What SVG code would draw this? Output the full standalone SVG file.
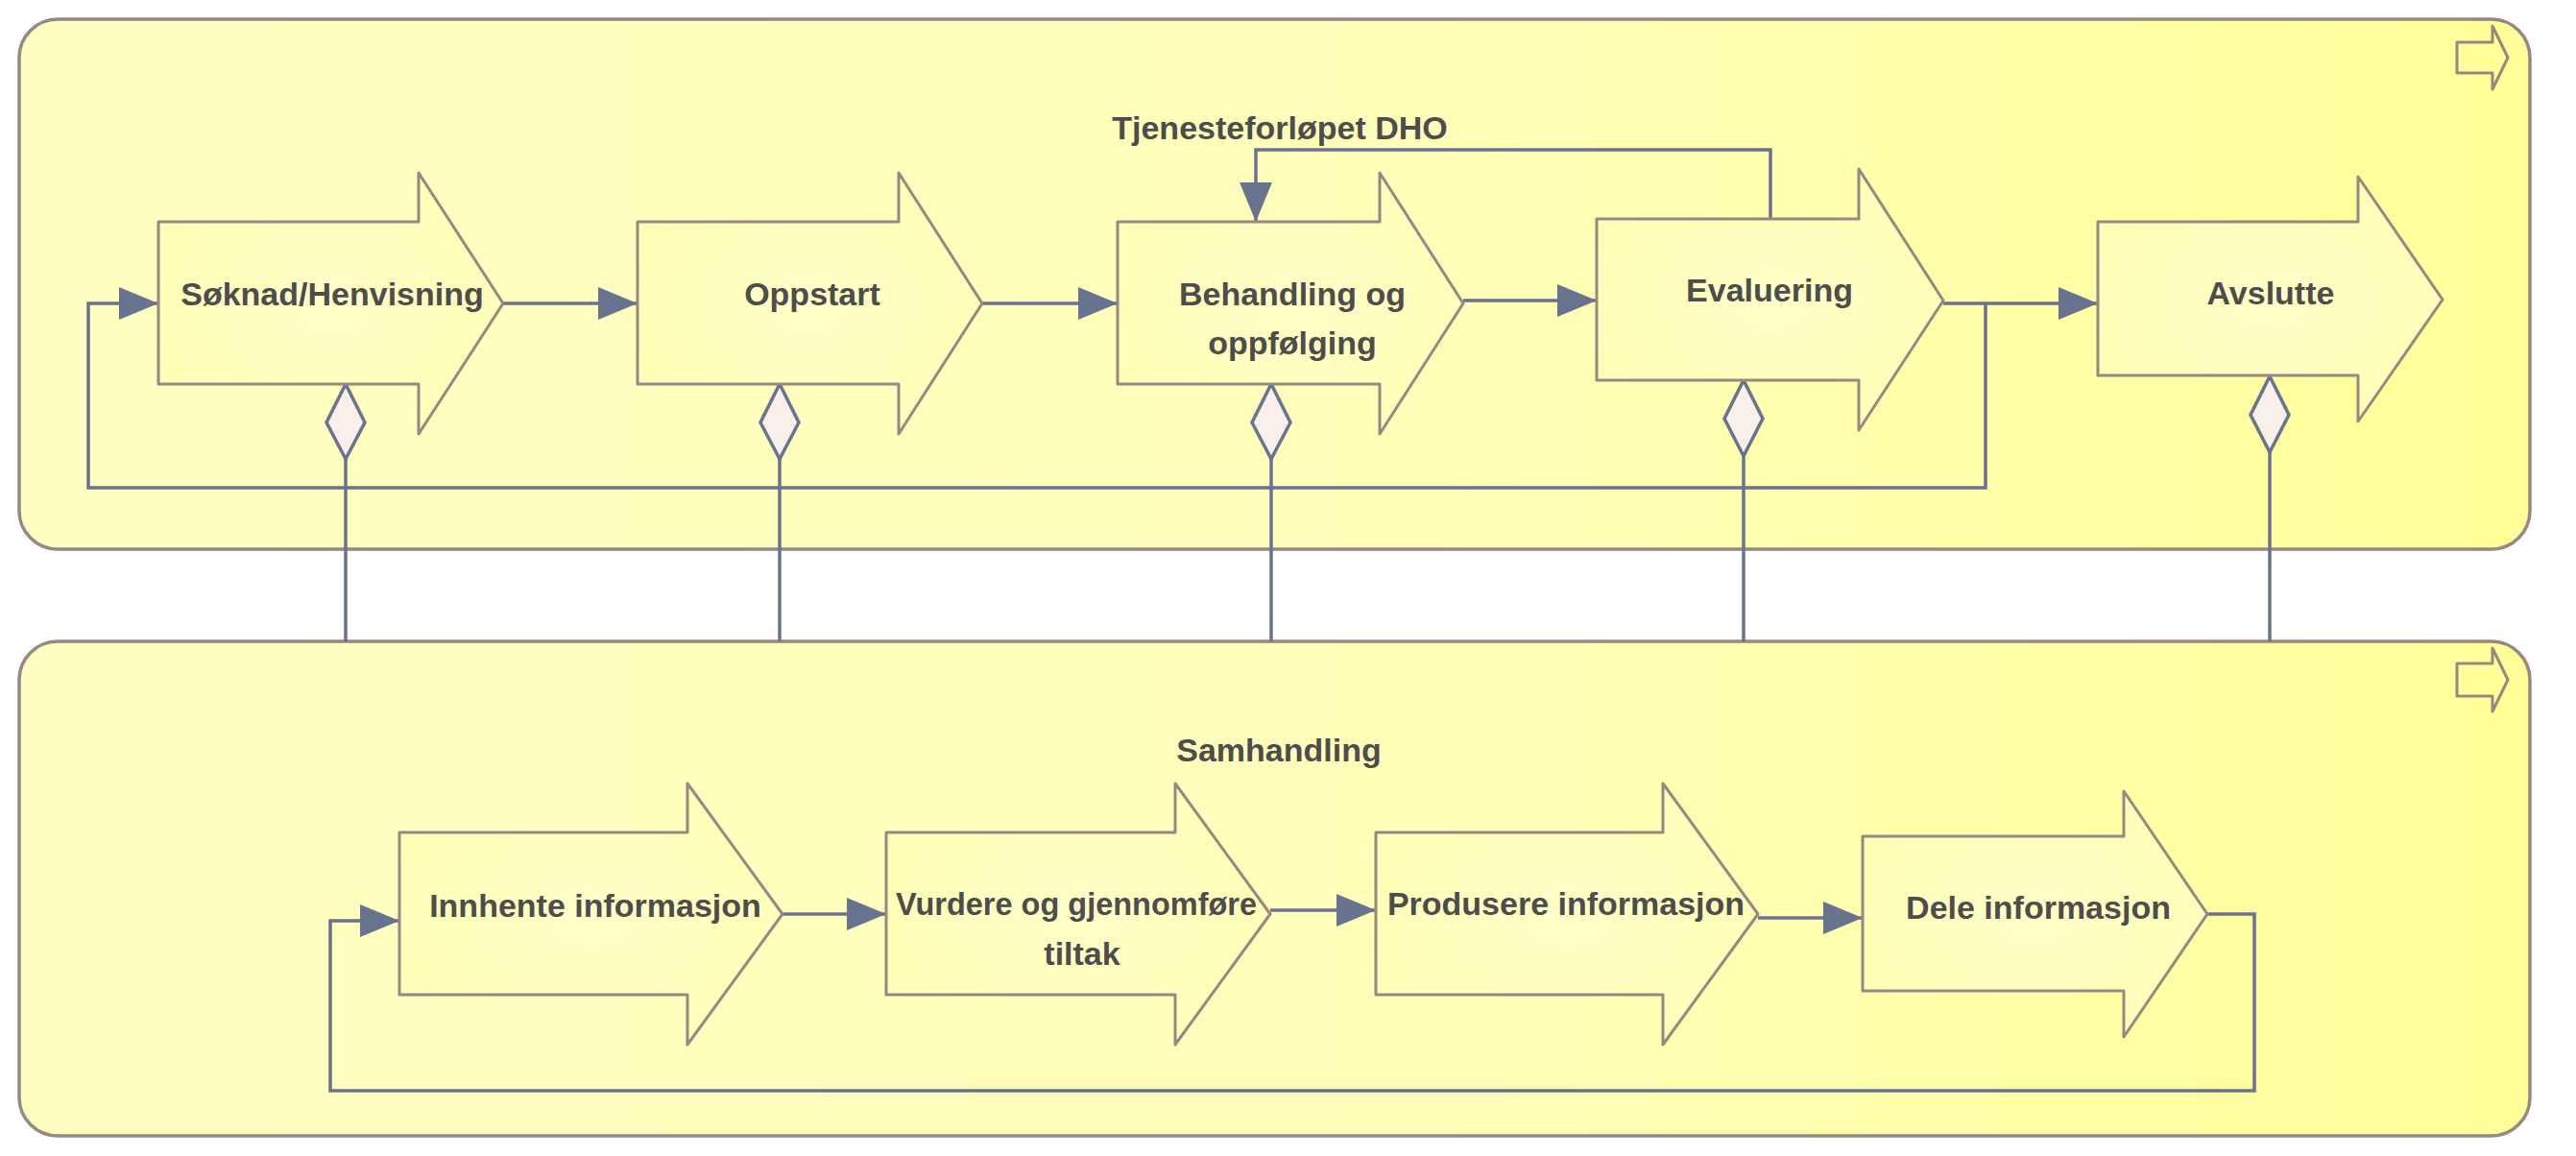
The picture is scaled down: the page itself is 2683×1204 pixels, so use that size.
<svg xmlns="http://www.w3.org/2000/svg" width="2683" height="1204" viewBox="0 0 2683 1204">
<style>
.container{stroke:#9a8682;stroke-width:3.5;fill:url(#boxGrad)}
.step{stroke:#9a8682;stroke-width:3;fill:url(#stepGrad);stroke-linejoin:round}
.icon{stroke:#9a8682;stroke-width:3;fill:none;stroke-linejoin:round}
.lbl{font-family:"Liberation Sans",Arial,sans-serif;font-weight:bold;font-size:34px;fill:#4d4d4d;text-anchor:middle}
.conn{stroke:#687390;stroke-width:3.5;fill:none}
.diamond{stroke:#687390;stroke-width:3.5;fill:#f9f0ec}
</style>
<defs>
<linearGradient id="boxGrad" x1="0" y1="0" x2="1" y2="0">
<stop offset="0" stop-color="#ffffc2"/>
<stop offset="0.55" stop-color="#ffffba"/>
<stop offset="1" stop-color="#ffff99"/>
</linearGradient>
<radialGradient id="stepGrad" cx="0.5" cy="0.5" r="0.6">
<stop offset="0" stop-color="#ffffc8"/>
<stop offset="1" stop-color="#ffffb6"/>
</radialGradient>
<marker id="arr" markerUnits="userSpaceOnUse" markerWidth="42" markerHeight="36" refX="41" refY="17" orient="auto" viewBox="0 0 42 34">
<path d="M0,0 L41,17 L0,34 z" fill="#687390"/>
</marker>
</defs>

<g id="container-tjeneste">
<rect class="container" x="20" y="20" width="2615" height="552" rx="40" ry="40"/>
<path class="icon" d="M2559,44 H2596 V27 L2612,60 L2596,93 V76 H2559 Z"/>
<text class="lbl" x="1333" y="145">Tjenesteforløpet DHO</text>
</g>

<g id="container-samhandling">
<rect class="container" x="20" y="668" width="2615" height="515" rx="40" ry="40"/>
<path class="icon" d="M2559,691 H2596 V675 L2612,708 L2596,741 V725 H2559 Z"/>
<text class="lbl" x="1332" y="793">Samhandling</text>
</g>

<g id="connectors">
<line class="conn" x1="524" y1="316" x2="664" y2="316" marker-end="url(#arr)"/>
<line class="conn" x1="1023" y1="316" x2="1164" y2="316" marker-end="url(#arr)"/>
<line class="conn" x1="1524" y1="313" x2="1663" y2="313" marker-end="url(#arr)"/>
<line class="conn" x1="2024" y1="316" x2="2185" y2="316" marker-end="url(#arr)"/>
<polyline class="conn" points="2068,316 2068,508 92,508 92,316 165,316" marker-end="url(#arr)"/>
<polyline class="conn" points="1844,228 1844,156 1308,156 1308,231" marker-end="url(#arr)"/>
<line class="conn" x1="360" y1="478" x2="360" y2="668"/>
<line class="conn" x1="812" y1="478" x2="812" y2="668"/>
<line class="conn" x1="1324" y1="478" x2="1324" y2="668"/>
<line class="conn" x1="1816" y1="475" x2="1816" y2="668"/>
<line class="conn" x1="2364" y1="471" x2="2364" y2="668"/>
<polygon class="diamond" points="360,400 380,440 360,478 340,440"/>
<polygon class="diamond" points="812,400 832,440 812,478 792,440"/>
<polygon class="diamond" points="1324,400 1344,440 1324,478 1304,440"/>
<polygon class="diamond" points="1816,396 1836,436 1816,475 1796,436"/>
<polygon class="diamond" points="2364,392 2384,432 2364,471 2344,432"/>
<line class="conn" x1="815" y1="952" x2="923" y2="952" marker-end="url(#arr)"/>
<line class="conn" x1="1323" y1="948" x2="1433" y2="948" marker-end="url(#arr)"/>
<line class="conn" x1="1831" y1="956" x2="1940" y2="956" marker-end="url(#arr)"/>
<polyline class="conn" points="2299,952 2348,952 2348,1136 344,1136 344,959 416,959" marker-end="url(#arr)"/>
</g>

<g id="soknad">
<path class="step" d="M165,231 H436 V180 L524,316 L436,452 V400 H165 Z"/>
<text class="lbl" x="346" y="318">Søknad/Henvisning</text>
</g>
<g id="oppstart">
<path class="step" d="M664,231 H936 V180 L1023,316 L936,452 V400 H664 Z"/>
<text class="lbl" x="846" y="318">Oppstart</text>
</g>
<g id="behandling">
<path class="step" d="M1164,231 H1437 V180 L1524,316 L1437,452 V400 H1164 Z"/>
<text class="lbl" x="1346" y="318">Behandling og</text>
<text class="lbl" x="1346" y="369">oppfølging</text>
</g>
<g id="evaluering">
<path class="step" d="M1663,228 H1936 V176 L2024,313 L1936,448 V396 H1663 Z"/>
<text class="lbl" x="1843" y="314">Evaluering</text>
</g>
<g id="avslutte">
<path class="step" d="M2185,231 H2456 V184 L2544,312 L2456,439 V391 H2185 Z"/>
<text class="lbl" x="2365" y="317">Avslutte</text>
</g>

<g id="innhente">
<path class="step" d="M416,867 H716 V816 L815,952 L716,1088 V1036 H416 Z"/>
<text class="lbl" x="620" y="955">Innhente informasjon</text>
</g>
<g id="vurdere">
<path class="step" d="M923,867 H1224 V816 L1323,952 L1224,1088 V1036 H923 Z"/>
<text class="lbl" x="1121" y="953" textLength="376" lengthAdjust="spacingAndGlyphs">Vurdere og gjennomføre</text>
<text class="lbl" x="1127" y="1005">tiltak</text>
</g>
<g id="produsere">
<path class="step" d="M1433,867 H1732 V816 L1831,952 L1732,1088 V1036 H1433 Z"/>
<text class="lbl" x="1631" y="953">Produsere informasjon</text>
</g>
<g id="dele">
<path class="step" d="M1940,871 H2212 V824 L2299,952 L2212,1080 V1032 H1940 Z"/>
<text class="lbl" x="2123" y="957">Dele informasjon</text>
</g>
</svg>
